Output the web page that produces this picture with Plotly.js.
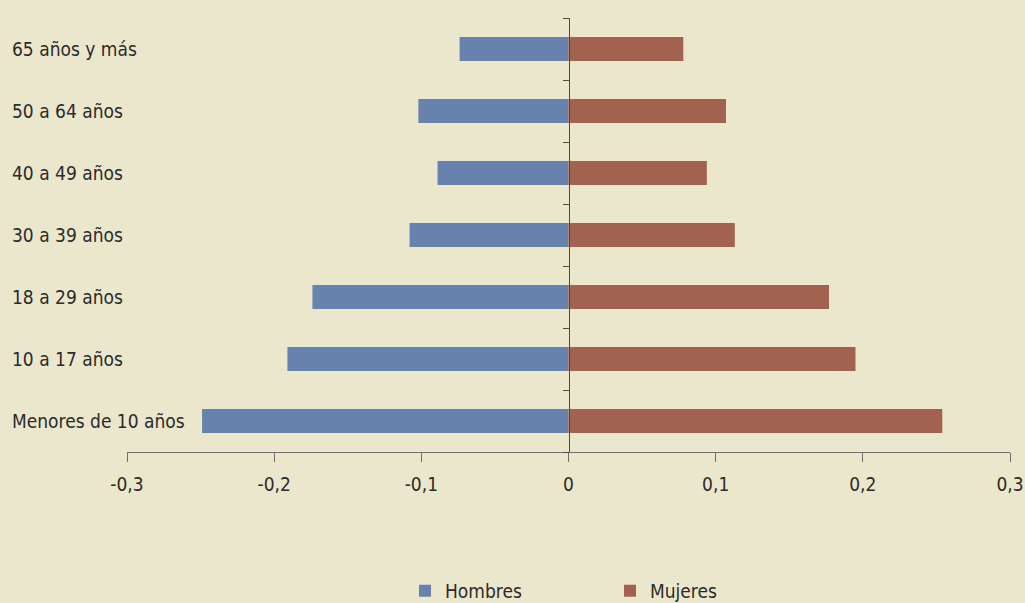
<!DOCTYPE html>
<html>
<head>
<meta charset="utf-8">
<script src="https://cdn.plot.ly/plotly-3.0.1.min.js"></script>
<style>
html,body{margin:0;padding:0;background:#ebe7cd;}
#chart{width:1025px;height:603px;}
</style>
</head>
<body>
<div id="chart"></div>
<script>
var categories = ["Menores de 10 años", "10 a 17 años", "18 a 29 años", "30 a 39 años", "40 a 49 años", "50 a 64 años", "65 años y más"];
var hombres = [-0.249, -0.191, -0.174, -0.108, -0.089, -0.102, -0.074];
var mujeres = [0.254, 0.195, 0.177, 0.113, 0.094, 0.107, 0.078];
var tickVals = [-0.3, -0.2, -0.1, 0, 0.1, 0.2, 0.3];
var tickText = ["-0,3", "-0,2", "-0,1", "0", "0,1", "0,2", "0,3"];

var FONT = '"Liberation Sans Narrow", "Arial Narrow", "DejaVu Sans Condensed", sans-serif';
var BG = '#ebe7cd';

var traces = [
  {type: 'bar', orientation: 'h', name: 'Hombres', y: categories, x: hombres,
   marker: {color: '#6782ad'}, hoverinfo: 'x+y'},
  {type: 'bar', orientation: 'h', name: 'Mujeres', y: categories, x: mujeres,
   marker: {color: '#a2624f'}, hoverinfo: 'x+y'}
];

var annotations = categories.map(function (c) {
  return {text: c, xref: 'paper', yref: 'y', x: -0.1324, y: c, xanchor: 'left',
          yanchor: 'middle', showarrow: false, font: {family: FONT, size: 19, color: '#2b2b2b'}};
});

var layout = {
  width: 1025, height: 603,
  paper_bgcolor: BG, plot_bgcolor: BG,
  margin: {l: 127, r: 15, t: 18, b: 151, autoexpand: false},
  barmode: 'relative', bargap: 0.61,
  font: {family: FONT, size: 19, color: '#2b2b2b'},
  showlegend: true,
  legend: {orientation: 'h', x: 0.547, xanchor: 'center', y: -0.32, yanchor: 'middle',
           font: {family: FONT, size: 19, color: '#2b2b2b'}, entrywidth: 160, bgcolor: 'rgba(0,0,0,0)'},
  xaxis: {range: [-0.3, 0.3], tickvals: tickVals, ticktext: tickText,
          showgrid: false, zeroline: false, showline: true, linecolor: '#6e6e6e', linewidth: 1,
          ticks: 'outside', ticklen: 9, tickcolor: '#6e6e6e', anchor: 'y',
          ticklabeloverflow: 'allow', ticklabelstandoff: 6,
          tickfont: {family: FONT, size: 19, color: '#2b2b2b'}, fixedrange: true},
  yaxis: {type: 'category', categoryorder: 'array', categoryarray: categories,
          range: [-0.5, 6.5], anchor: 'free', position: 0.5, side: 'left',
          showline: true, linecolor: '#4a4a4a', linewidth: 1.5,
          ticks: 'outside', tickson: 'boundaries', ticklen: 6, tickcolor: '#4a4a4a',
          showticklabels: false, showgrid: false, zeroline: false, fixedrange: true},
  annotations: annotations
};

Plotly.newPlot('chart', traces, layout, {displayModeBar: false, staticPlot: true});
</script>
</body>
</html>
